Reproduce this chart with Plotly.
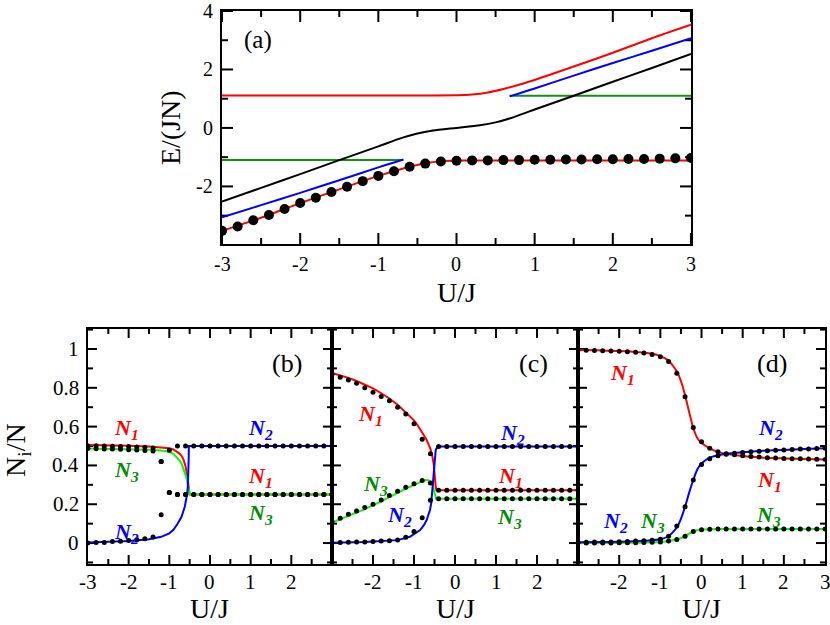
import plotly.graph_objects as go

# ---------- panel (a): energies ----------
u_dots = [-3.0, -2.8, -2.6, -2.4, -2.2, -2.0, -1.8, -1.6, -1.4, -1.2, -1.0,
          -0.8, -0.6, -0.4, -0.2, 0.0, 0.2, 0.4, 0.6, 0.8, 1.0,
          1.2, 1.4, 1.6, 1.8, 2.0, 2.2, 2.4, 2.6, 2.8, 3.0]
e_dots = [-3.52, -3.37, -3.16, -2.98, -2.77, -2.57, -2.39, -2.19, -2.01, -1.82, -1.64,
          -1.48, -1.33, -1.22, -1.15, -1.12, -1.11, -1.11, -1.10, -1.10, -1.09,
          -1.09, -1.08, -1.08, -1.07, -1.07, -1.06, -1.06, -1.05, -1.04, -1.03]

u_red_lo = [-3, -2.5, -2, -1.5, -1, -0.8, -0.6, -0.4, -0.2, 0, 0.5, 3]
e_red_lo = [-3.52, -3.07, -2.57, -2.10, -1.64, -1.48, -1.33, -1.21, -1.14, -1.115, -1.11, -1.11]
u_red_hi = [-3, -0.5, 0, 0.2, 0.4, 0.6, 0.8, 1, 1.5, 2, 2.5, 3]
e_red_hi = [1.11, 1.11, 1.115, 1.14, 1.21, 1.33, 1.48, 1.64, 2.10, 2.57, 3.07, 3.53]

u_blue_lo = [-3, -2.5, -2, -1.5, -1, -0.8, -0.68]
e_blue_lo = [-3.06, -2.64, -2.22, -1.79, -1.35, -1.18, -1.08]
u_blue_hi = [0.68, 0.8, 1, 1.5, 2, 2.5, 3]
e_blue_hi = [1.08, 1.18, 1.35, 1.79, 2.22, 2.64, 3.07]

u_green_lo = [-3, -0.68]
e_green_lo = [-1.10, -1.10]
u_green_hi = [0.68, 3]
e_green_hi = [1.10, 1.10]

u_black = [-3, -2.5, -2, -1.5, -1, -0.7, -0.5, -0.3, 0, 0.3, 0.5, 0.7, 1, 1.5, 2, 2.5, 3]
e_black = [-2.52, -2.05, -1.58, -1.10, -0.63, -0.34, -0.19, -0.09, 0, 0.09, 0.19, 0.34,
           0.63, 1.10, 1.58, 2.05, 2.53]

# ---------- panel (b) ----------
b_u_13 = [-3, -2.5, -2, -1.5, -1.2, -1.0, -0.9, -0.8, -0.75, -0.7, -0.65, -0.6, -0.57,
          -0.55, -0.53, -0.51, -0.5, 3]
b_n1 = [0.505, 0.504, 0.502, 0.498, 0.494, 0.488, 0.482, 0.470, 0.461, 0.450, 0.430,
        0.395, 0.365, 0.335, 0.30, 0.265, 0.25, 0.25]
b_n3 = [0.487, 0.486, 0.485, 0.481, 0.477, 0.470, 0.460, 0.440, 0.426, 0.410, 0.385,
        0.350, 0.328, 0.305, 0.28, 0.258, 0.25, 0.25]
b_u_2 = [-3, -2.5, -2, -1.5, -1.2, -1.0, -0.9, -0.8, -0.7, -0.62, -0.58, -0.56, -0.545,
         -0.535, -0.527, -0.523, -0.52, 3]
b_n2 = [0.003, 0.006, 0.010, 0.020, 0.032, 0.050, 0.068, 0.098, 0.135, 0.187, 0.225,
        0.256, 0.29, 0.33, 0.38, 0.44, 0.5, 0.5]

b_d1 = [0.502, 0.501, 0.500, 0.499, 0.498, 0.497, 0.495, 0.493, 0.490, 0.42, 0.26] + [0.25] * 20
b_d3 = [0.487, 0.486, 0.485, 0.484, 0.483, 0.481, 0.479, 0.477, 0.474, 0.42, 0.26] + [0.25] * 20
b_d2 = [0.0, 0.003, 0.003, 0.008, 0.009, 0.013, 0.017, 0.022, 0.031, 0.146, 0.478] + [0.5] * 20

# ---------- panel (c) ----------
c_u_1 = [-3, -2.8, -2.6, -2.4, -2.2, -2.0, -1.8, -1.6, -1.4, -1.2, -1.0, -0.9, -0.8, -0.7,
         -0.6, -0.55, -0.52, -0.5, -0.48, -0.47, -0.45, 3]
c_n1 = [0.877, 0.865, 0.851, 0.835, 0.815, 0.797, 0.772, 0.745, 0.713, 0.675, 0.632, 0.603,
        0.568, 0.535, 0.485, 0.445, 0.405, 0.35, 0.31, 0.29, 0.272, 0.272]
c_u_3 = [-3, -2.6, -2.2, -1.8, -1.4, -1.2, -1.0, -0.85, -0.75, -0.7, -0.65, -0.6, -0.57,
         -0.54, -0.51, -0.48, -0.46, 3]
c_n3 = [0.105, 0.14, 0.175, 0.215, 0.26, 0.28, 0.30, 0.316, 0.323, 0.325, 0.324, 0.318,
        0.311, 0.295, 0.273, 0.245, 0.228, 0.228]
c_u_2 = [-3, -2.2, -1.4, -1.1, -0.85, -0.75, -0.69, -0.64, -0.61, -0.58, -0.56, -0.545,
         -0.53, -0.51, -0.49, -0.47, -0.45, -0.42, -0.37, 3]
c_n2 = [0.002, 0.005, 0.015, 0.032, 0.067, 0.095, 0.119, 0.145, 0.17, 0.205, 0.256, 0.31,
        0.36, 0.415, 0.462, 0.48, 0.488, 0.494, 0.498, 0.498]

c_d1 = [0.87, 0.855, 0.84, 0.823, 0.80, 0.777, 0.755, 0.733, 0.70, 0.665, 0.615, 0.535,
        0.46] + [0.272] * 18
c_d3 = [0.11, 0.128, 0.148, 0.165, 0.183, 0.20, 0.222, 0.245, 0.267, 0.288, 0.305, 0.322,
        0.31] + [0.228] * 18
c_d2 = [0.002, 0.003, 0.004, 0.005, 0.006, 0.008, 0.01, 0.012, 0.016, 0.03, 0.06, 0.13,
        0.22] + [0.498] * 18

# ---------- panel (d) ----------
d_u = [-3, -2.5, -2, -1.5, -1.2, -1.0, -0.8, -0.6, -0.5, -0.4, -0.3, -0.2, -0.1, 0, 0.2,
       0.4, 0.6, 1.0, 1.5, 2, 2.5, 3]
d_n1 = [0.995, 0.993, 0.99, 0.983, 0.975, 0.963, 0.94, 0.885, 0.835, 0.762, 0.675, 0.593,
        0.54, 0.515, 0.488, 0.47, 0.46, 0.448, 0.44, 0.436, 0.433, 0.43]
d_n2 = [0.004, 0.005, 0.007, 0.01, 0.015, 0.02, 0.035, 0.08, 0.125, 0.187, 0.26, 0.325,
        0.38, 0.41, 0.44, 0.452, 0.46, 0.468, 0.475, 0.48, 0.485, 0.488]
d_n3 = [0.0, 0.0, 0.0, 0.002, 0.004, 0.006, 0.01, 0.018, 0.025, 0.035, 0.048, 0.06, 0.066,
        0.069, 0.071, 0.072, 0.072, 0.072, 0.072, 0.072, 0.072, 0.072]

d_d1 = [0.995, 0.993, 0.992, 0.991, 0.99, 0.988, 0.986, 0.983, 0.979, 0.972, 0.96, 0.935,
        0.875, 0.754, 0.596, 0.522, 0.488, 0.47, 0.46, 0.455, 0.45, 0.446, 0.443, 0.44,
        0.438, 0.436, 0.435, 0.434, 0.433, 0.432, 0.431]
d_d2 = [0.004, 0.004, 0.005, 0.005, 0.006, 0.007, 0.008, 0.01, 0.012, 0.015, 0.02, 0.035,
        0.088, 0.187, 0.325, 0.405, 0.435, 0.45, 0.458, 0.463, 0.467, 0.47, 0.473, 0.476,
        0.478, 0.48, 0.482, 0.484, 0.485, 0.487, 0.488]
d_d3 = [0.0, 0.0, 0.0, 0.0, 0.0, 0.001, 0.001, 0.002, 0.003, 0.004, 0.006, 0.01, 0.018,
        0.035, 0.06, 0.069, 0.071, 0.072, 0.072, 0.072, 0.072, 0.072, 0.072, 0.072, 0.072,
        0.072, 0.072, 0.072, 0.072, 0.072, 0.072]

# tick positions and labels
u_major = [-3, -2, -1, 0, 1, 2, 3]
u_minor = [-2.5, -1.5, -0.5, 0.5, 1.5, 2.5]
e_major = [-2, 0, 2, 4]
e_minor = [-3, -1, 1, 3]
n_major = [0, 0.2, 0.4, 0.6, 0.8, 1.0]
n_text = ['0', '0.2', '0.4', '0.6', '0.8', '1']
n_minor = [-0.1, 0.1, 0.3, 0.5, 0.7, 0.9, 1.1]
b_ulabels = [-3, -2, -1, 0, 1, 2]
c_ulabels = [-2, -1, 0, 1, 2]
d_ulabels = [-2, -1, 0, 1, 2, 3]

RED = '#ff0000'
BLUE = '#0000ff'
GREEN_A = '#1a8c1a'
GREEN_L = '#00ff00'
GREEN_T = '#008c00'
SERIF = 'Liberation Serif'
W, H = 830, 625

fig = go.Figure()


def line(x, y, color, xa, ya, shape='spline'):
    fig.add_trace(go.Scatter(x=x, y=y, mode='lines', xaxis=xa, yaxis=ya,
                             line=dict(color=color, width=2, shape=shape, smoothing=0.6),
                             showlegend=False, hoverinfo='skip'))


def dots(y, xa, ya, size):
    fig.add_trace(go.Scatter(x=u_dots, y=y, mode='markers', xaxis=xa, yaxis=ya,
                             marker=dict(color='black', size=size),
                             showlegend=False, hoverinfo='skip'))


# subplot frames (paper fractions)
top_x = [0.2675, 0.8325]
top_y = [0.6096, 0.9824]
bot_y = [0.0976, 0.4736]
bx = [0.106, 0.4]
cx = [0.4, 0.6964]
dx = [0.6964, 0.994]
e_rng = [-3.97, 4]
n_rng = [-0.108, 1.103]
u_rng = [-3, 3]


# inside tick marks on all four sides, as short line segments in axis units
def tick_trace(xa, ya, xdom, ydom, xr, yr, xmaj, xmin, ymaj, ymin, lmaj, lmin):
    upx = (xr[1] - xr[0]) / ((xdom[1] - xdom[0]) * W)
    upy = (yr[1] - yr[0]) / ((ydom[1] - ydom[0]) * H)
    xs, ys = [], []
    for vals, ln in ((xmaj, lmaj), (xmin, lmin)):
        for v in vals:
            xs += [v, v, None, v, v, None]
            ys += [yr[0], yr[0] + ln * upy, None, yr[1], yr[1] - ln * upy, None]
    for vals, ln in ((ymaj, lmaj), (ymin, lmin)):
        for v in vals:
            xs += [xr[0], xr[0] + ln * upx, None, xr[1], xr[1] - ln * upx, None]
            ys += [v, v, None, v, v, None]
    fig.add_trace(go.Scatter(x=xs, y=ys, mode='lines', xaxis=xa, yaxis=ya,
                             line=dict(color='black', width=2),
                             showlegend=False, hoverinfo='skip'))


# ticks first so the curves sit on top of them
tick_trace('x', 'y', top_x, top_y, u_rng, e_rng, u_major, u_minor, e_major, e_minor, 11, 6)
for xa, ya, xd in (('x2', 'y2', bx), ('x3', 'y3', cx), ('x4', 'y4', dx)):
    tick_trace(xa, ya, xd, bot_y, u_rng, n_rng, u_major[1:-1], u_minor, n_major, n_minor,
               9, 5)

# (a)
line(u_green_lo, e_green_lo, GREEN_A, 'x', 'y', 'linear')
line(u_green_hi, e_green_hi, GREEN_A, 'x', 'y', 'linear')
line(u_black, e_black, 'black', 'x', 'y')
line(u_blue_lo, e_blue_lo, BLUE, 'x', 'y')
line(u_blue_hi, e_blue_hi, BLUE, 'x', 'y')
line(u_red_hi, e_red_hi, RED, 'x', 'y')
line(u_red_lo, e_red_lo, RED, 'x', 'y')
dots(e_dots, 'x', 'y', 10)

# (b)
line(b_u_13, b_n1, RED, 'x2', 'y2', 'linear')
line(b_u_13, b_n3, GREEN_L, 'x2', 'y2', 'linear')
line(b_u_2, b_n2, BLUE, 'x2', 'y2', 'linear')
for d in (b_d1, b_d2, b_d3):
    dots(d, 'x2', 'y2', 5)

# (c)
line(c_u_1, c_n1, RED, 'x3', 'y3', 'linear')
line(c_u_3, c_n3, GREEN_L, 'x3', 'y3', 'linear')
line(c_u_2, c_n2, BLUE, 'x3', 'y3', 'linear')
for d in (c_d1, c_d2, c_d3):
    dots(d, 'x3', 'y3', 5)

# (d)
line(d_u, d_n1, RED, 'x4', 'y4')
line(d_u, d_n3, GREEN_L, 'x4', 'y4')
line(d_u, d_n2, BLUE, 'x4', 'y4')
for d in (d_d1, d_d2, d_d3):
    dots(d, 'x4', 'y4', 5)


def ax(domain, rng, anchor):
    return dict(domain=domain, range=rng, anchor=anchor, showticklabels=False,
                ticks='', showline=True, linewidth=2, linecolor='black', mirror=True,
                showgrid=False, zeroline=False)


fig.update_layout(
    width=W, height=H,
    margin=dict(l=0, r=0, t=0, b=0, pad=0),
    paper_bgcolor='white', plot_bgcolor='white',
    font=dict(family=SERIF, size=18, color='black'),
    xaxis=ax(top_x, u_rng, 'y'), yaxis=ax(top_y, e_rng, 'x'),
    xaxis2=ax(bx, u_rng, 'y2'), yaxis2=ax(bot_y, n_rng, 'x2'),
    xaxis3=ax(cx, u_rng, 'y3'), yaxis3=ax(bot_y, n_rng, 'x3'),
    xaxis4=ax(dx, u_rng, 'y4'), yaxis4=ax(bot_y, n_rng, 'x4'),
)

ann = []


def text(x, y, s, size, xref='paper', yref='paper', color='black', angle=0,
         xanchor='center'):
    ann.append(dict(x=x, y=y, xref=xref, yref=yref, text=s, showarrow=False,
                    textangle=angle, xanchor=xanchor, yanchor='middle',
                    font=dict(family=SERIF, size=size, color=color)))


# tick labels
for v in u_major:
    text(v, 1 - 264 / H, str(v), 20, xref='x')
for v in e_major:
    text(215 / W, v, str(v), 20, yref='y', xanchor='right')
for xr, labels in (('x2', b_ulabels), ('x3', c_ulabels), ('x4', d_ulabels)):
    for v in labels:
        text(v, 1 - 582 / H, str(v), 21, xref=xr)
for v, t in zip(n_major, n_text):
    text(81 / W, v, t, 21, yref='y2', xanchor='right')

# axis titles and panel tags
text(171 / W, 1 - 128 / H, 'E/(JN)', 28, angle=-90)
text(456 / W, 1 - 292 / H, 'U/J', 28)
for px in (210, 455, 701):
    text(px / W, 1 - 608 / H, 'U/J', 28)
text(17 / W, 1 - 450 / H, 'N<sub>i</sub>/N', 28, angle=-90)
text(258 / W, 1 - 40 / H, '(a)', 25)
text(287 / W, 1 - 363 / H, '(b)', 26)
text(533 / W, 1 - 363 / H, '(c)', 26)
text(772 / W, 1 - 363 / H, '(d)', 26)


def nlab(x, y, i, color, xr, yr):
    text(x, y, '<b><i>N<sub>%d</sub></i></b>' % i, 22, xref=xr, yref=yr, color=color)


nlab(-2.05, 0.59, 1, RED, 'x2', 'y2')
nlab(-2.05, 0.37, 3, GREEN_T, 'x2', 'y2')
nlab(-2.05, 0.05, 2, BLUE, 'x2', 'y2')
nlab(1.25, 0.59, 2, BLUE, 'x2', 'y2')
nlab(1.25, 0.34, 1, RED, 'x2', 'y2')
nlab(1.25, 0.15, 3, GREEN_T, 'x2', 'y2')

nlab(-2.05, 0.66, 1, RED, 'x3', 'y3')
nlab(-1.95, 0.3, 3, GREEN_T, 'x3', 'y3')
nlab(-1.35, 0.14, 2, BLUE, 'x3', 'y3')
nlab(1.4, 0.56, 2, BLUE, 'x3', 'y3')
nlab(1.35, 0.34, 1, RED, 'x3', 'y3')
nlab(1.33, 0.13, 3, GREEN_T, 'x3', 'y3')

nlab(-1.93, 0.87, 1, RED, 'x4', 'y4')
nlab(-2.1, 0.11, 2, BLUE, 'x4', 'y4')
nlab(-1.2, 0.11, 3, GREEN_T, 'x4', 'y4')
nlab(1.68, 0.59, 2, BLUE, 'x4', 'y4')
nlab(1.65, 0.32, 1, RED, 'x4', 'y4')
nlab(1.62, 0.14, 3, GREEN_T, 'x4', 'y4')

fig.update_layout(annotations=ann)

fig.write_html("out.html", config={'displayModeBar': False},
               post_script="document.body.style.margin='0';")
